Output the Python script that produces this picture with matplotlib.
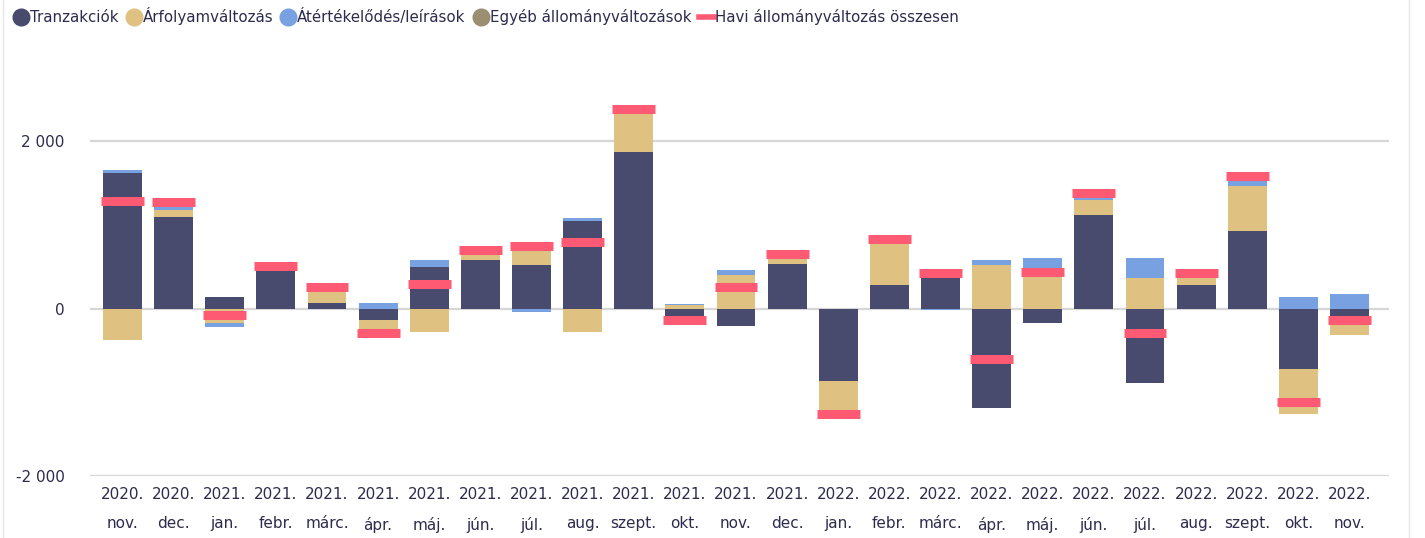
import numpy as np
import matplotlib.pyplot as plt
from matplotlib.lines import Line2D

# Monthly data
months = ["2020.\nnov.", "2020.\ndec.", "2021.\njan.", "2021.\nfebr.", "2021.\nmárc.",
          "2021.\nápr.", "2021.\nmáj.", "2021.\njún.", "2021.\njúl.", "2021.\naug.",
          "2021.\nszept.", "2021.\nokt.", "2021.\nnov.", "2021.\ndec.", "2022.\njan.",
          "2022.\nfebr.", "2022.\nmárc.", "2022.\nápr.", "2022.\nmáj.", "2022.\njún.",
          "2022.\njúl.", "2022.\naug.", "2022.\nszept.", "2022.\nokt.", "2022.\nnov."]

tranzakciok = [1620, 1093, 137, 448, 66, -137, 496, 579, 519, 1045,
               1869, -190, -209, 531, -866, 281, 380, -1188, -173, 1116,
               -890, 281, 925, -722, -160]
arfolyam = [-376, 83, -169, 55, 190, -200, -281, 120, 240, -281,
            500, 44, 400, 110, -390, 540, 60, 519, 380, 179,
            364, 140, 538, -534, -153]
atertekeles = [34, 80, -52, 0, 0, 66, 83, -10, -40, 36,
               0, 12, 60, 0, 0, 0, -15, 60, 223, 70,
               239, 0, 100, 137, 173]
egyeb = [0] * 25
havi_osszes = [1280, 1268, -81, 511, 257, -296, 296, 695, 746, 790,
               2386, -141, 257, 647, -1256, 826, 428, -607, 436, 1379,
               -293, 424, 1582, -1120, -141]

colors = {"tr": "#484a6e", "arf": "#dfc282", "at": "#78a1e1", "eg": "#9b8f72", "havi": "#ff5a73"}
text_col = "#2c2c4e"

plt.rcParams['font.family'] = ['Liberation Sans Narrow', 'DejaVu Sans']
plt.rcParams['font.size'] = 11

fig = plt.figure(figsize=(14.25, 5.38), dpi=100)
ax = fig.add_axes([0.063, 0.115, 0.912, 0.763])

x = np.arange(len(months))
w = 0.76

# stack positives upward and negatives downward
pos_base = np.zeros(len(x))
neg_base = np.zeros(len(x))
for vals, c in [(tranzakciok, colors["tr"]), (arfolyam, colors["arf"]),
                (atertekeles, colors["at"]), (egyeb, colors["eg"])]:
    v = np.array(vals, dtype=float)
    bottom = np.where(v >= 0, pos_base, neg_base)
    ax.bar(x, v, w, bottom=bottom, color=c, zorder=2)
    pos_base += np.where(v >= 0, v, 0)
    neg_base += np.where(v < 0, v, 0)

ax.hlines(havi_osszes, x - 0.42, x + 0.42, color=colors["havi"], linewidth=6.5, zorder=3)

ax.set_xlim(-0.64, 24.78)
ax.set_ylim(-2000, 2900)
ax.set_yticks([-2000, 0, 2000])
ax.set_yticklabels(["-2 000", "0", "2 000"])
ax.set_xticks(x)
ax.set_xticklabels(months, linespacing=2.15)
ax.grid(axis="y", color="#d6d6d6", linewidth=1.6, zorder=0)
ax.set_axisbelow(True)
for s in ax.spines.values():
    s.set_visible(False)
ax.tick_params(length=0, colors=text_col, labelsize=11)
ax.tick_params(axis="y", pad=18)
ax.tick_params(axis="x", pad=8)

handles = [
    Line2D([], [], marker="o", ls="", color=colors["tr"], markersize=12),
    Line2D([], [], marker="o", ls="", color=colors["arf"], markersize=12),
    Line2D([], [], marker="o", ls="", color=colors["at"], markersize=12),
    Line2D([], [], marker="o", ls="", color=colors["eg"], markersize=12),
    Line2D([], [], color=colors["havi"], linewidth=4),
]
labels = ["Tranzakciók", "Árfolyamváltozás", "Átértékelődés/leírások",
          "Egyéb állományváltozások", "Havi állományváltozás összesen"]
leg = fig.legend(handles, labels, loc="upper left", bbox_to_anchor=(0.0, 1.012), ncol=5,
                 frameon=False, handlelength=1.0, handletextpad=0.1, columnspacing=0.5,
                 fontsize=10.8)
for t in leg.get_texts():
    t.set_color(text_col)

fig.add_artist(Line2D([0.989, 0.989], [0, 1], color="#e6e6e6", linewidth=1))
fig.add_artist(Line2D([0.002, 0.002], [0, 1], color="#e6e6e6", linewidth=1))

fig.savefig("out.png", dpi=100)
